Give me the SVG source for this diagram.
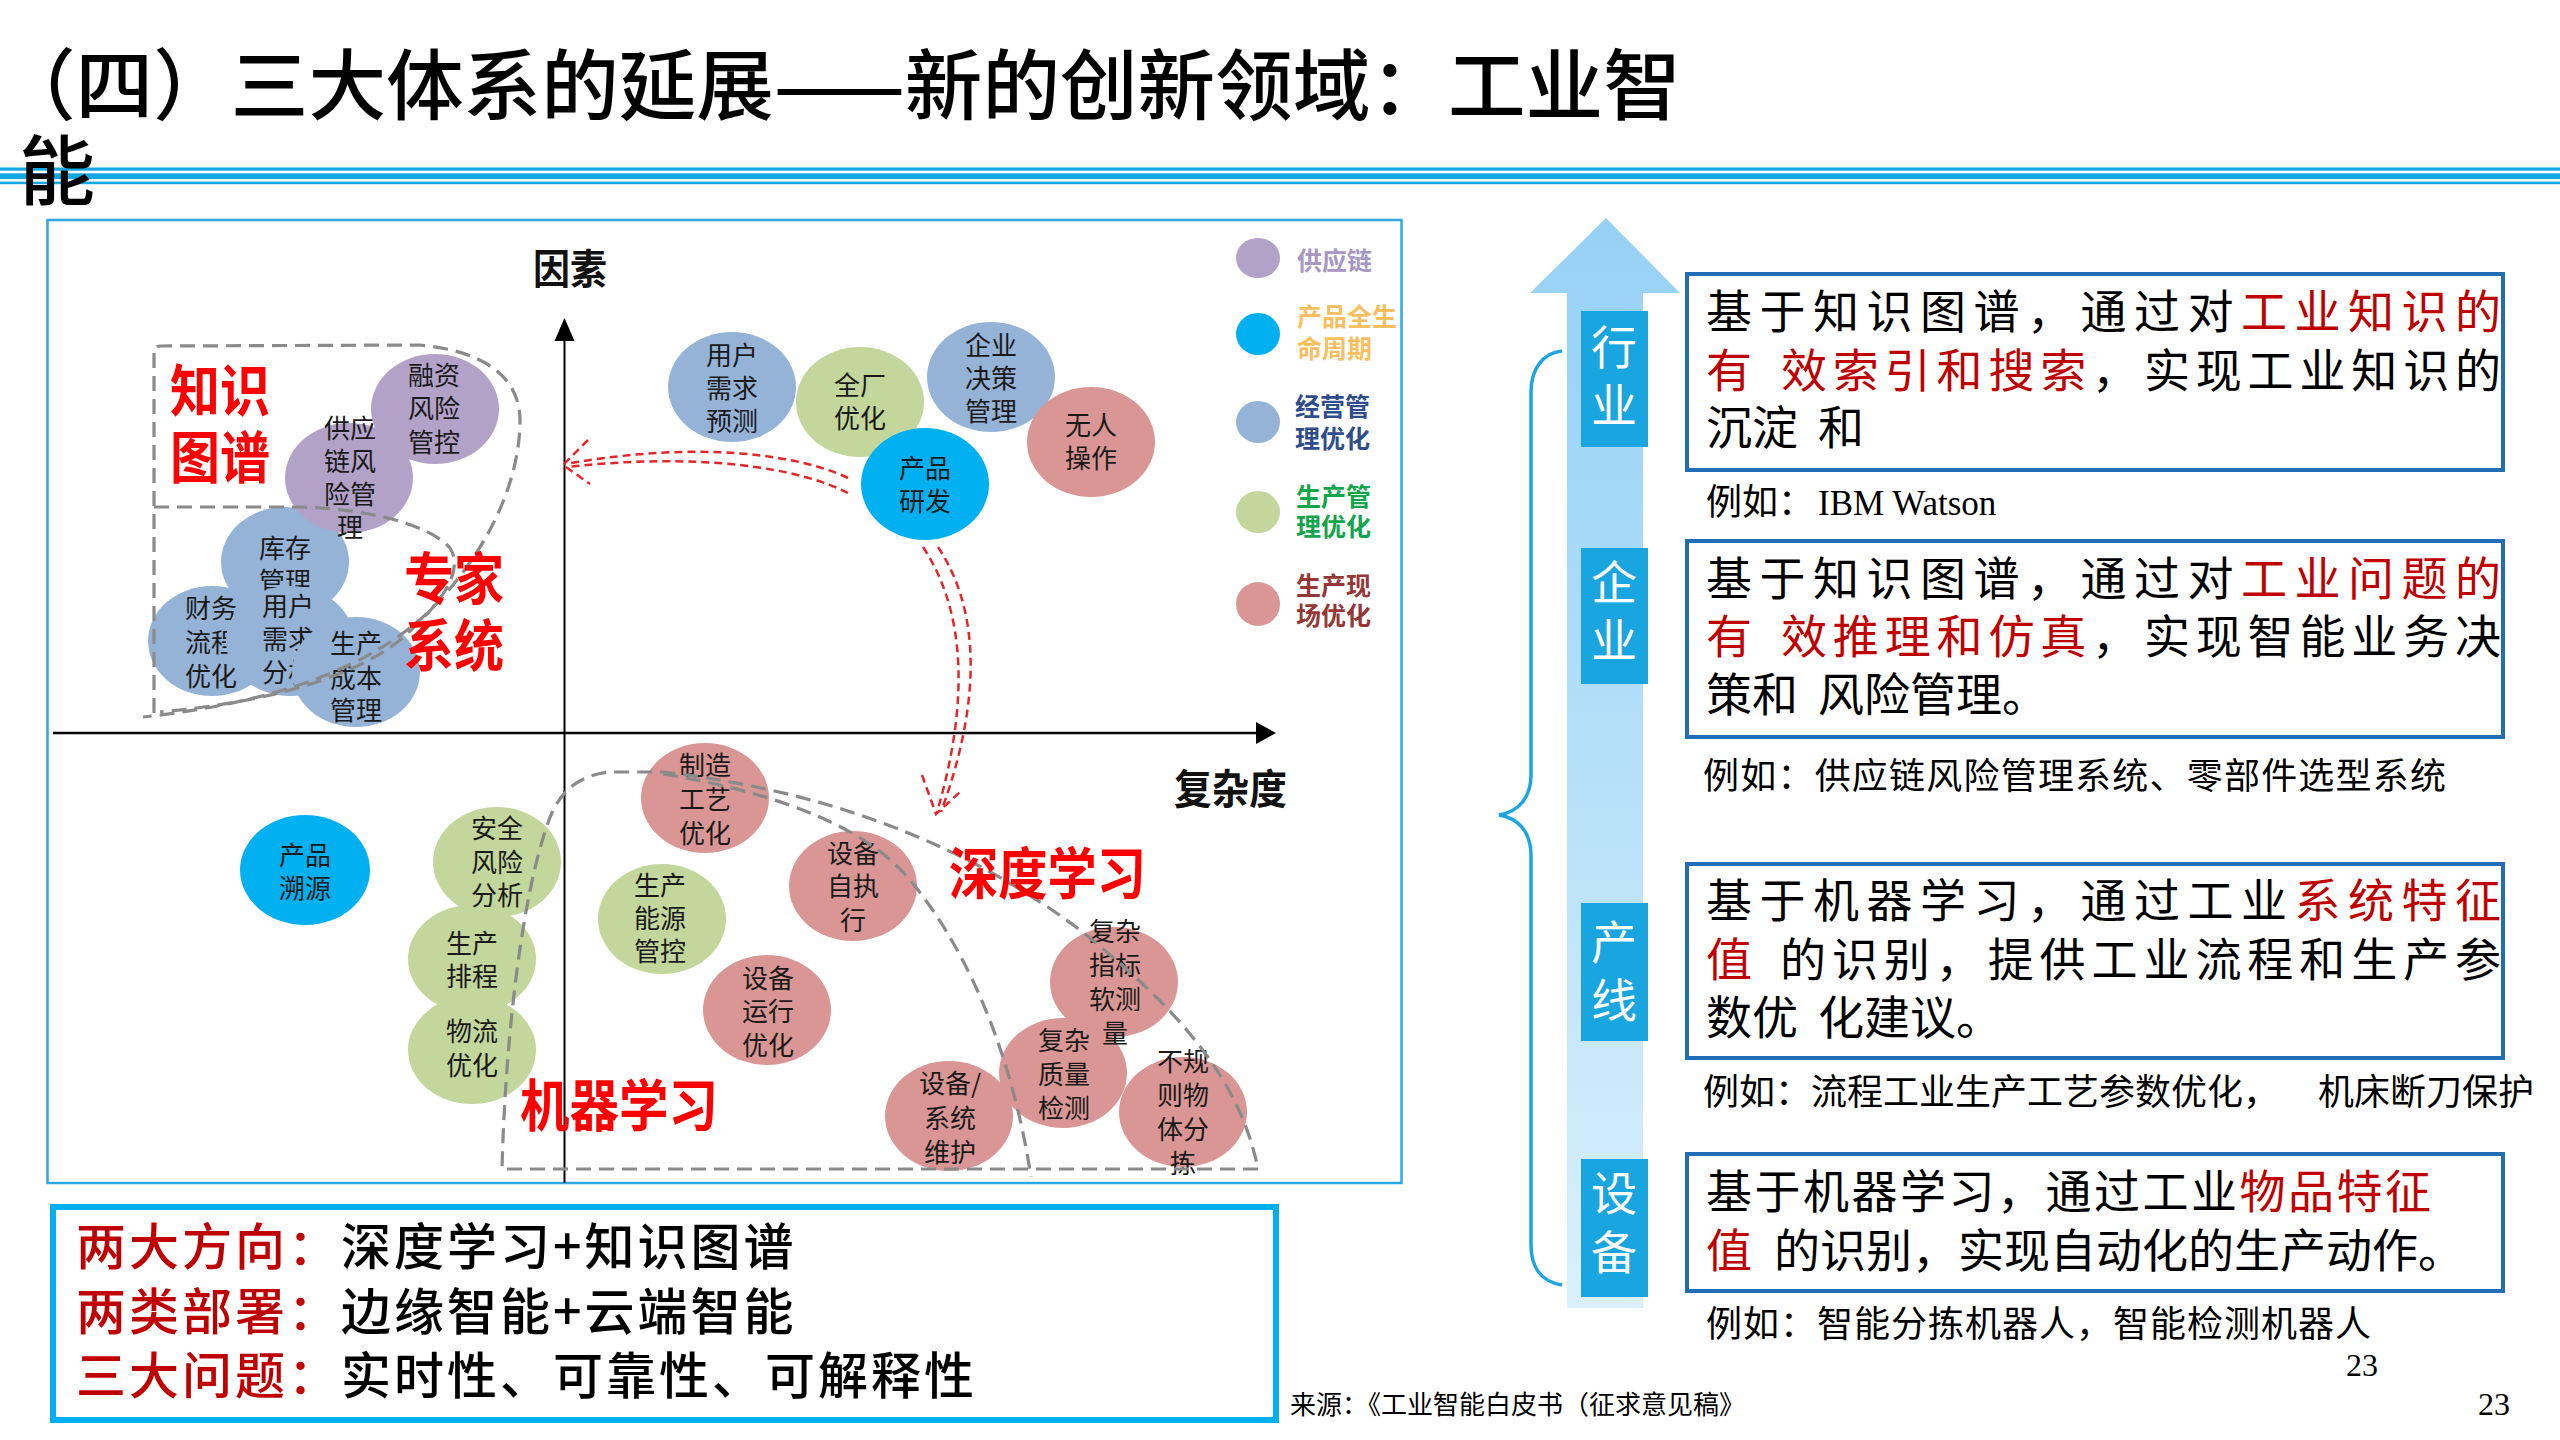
<svg xmlns="http://www.w3.org/2000/svg" width="2560" height="1440" viewBox="0 0 2560 1440">
<defs>
<linearGradient id="arrowGrad" x1="0" y1="218" x2="0" y2="1308" gradientUnits="userSpaceOnUse">
<stop offset="0" stop-color="#96D1F5"/>
<stop offset="0.25" stop-color="#A3D8F7"/>
<stop offset="1" stop-color="#DAF0FC"/>
</linearGradient>
</defs>
<style>
.cjk{font-family:"Noto Sans CJK SC","Noto Sans CJK JP",sans-serif}
.ct{font-size:26px;text-anchor:middle;fill:#1a1a1a}
.lab{font-weight:700;fill:#FF0000}
.axl{font-weight:700;fill:#111}
.cp{fill:#B3A2C7}.cc{fill:#00B0F0}.cb{fill:#95B3D7}.cg{fill:#C3D69B}.cr{fill:#D99694}
.dash{fill:none;stroke:#8A8A8A;stroke-width:3.2;stroke-dasharray:15 8}
.rdash{fill:none;stroke:#E3262A;stroke-width:2.5;stroke-dasharray:8 5}
.box{fill:#fff;stroke:#1F6EB7;stroke-width:4}
.bt{font-size:46px;fill:#000}
.red{fill:#C00000}
.eg{font-size:36px;fill:#000}
.lg{font-size:25px;font-weight:700}
.tag{fill:#19A5DF}
.tagt{font-size:46px;fill:#fff;text-anchor:middle}
.sum{font-size:50px;font-weight:500;letter-spacing:3px;fill:#000}
</style>
<rect width="2560" height="1440" fill="#fff"/>

<!-- header lines -->
<g id="header">
<rect x="0" y="167.5" width="2560" height="3.2" fill="#13A8E2"/>
<rect x="0" y="173.3" width="2560" height="5.8" fill="#13A8E2"/>
<rect x="0" y="181.6" width="2560" height="2.6" fill="#13A8E2"/>
<text class="cjk" x="-2" y="114" font-size="77.6" font-weight="500" fill="#000">（四）三大体系的延展——新的创新领域：工业智</text>
<text class="cjk" x="19" y="199" font-size="76" font-weight="500" fill="#000">能</text>
</g>

<!-- chart frame -->
<rect id="chart-frame" x="47.5" y="220" width="1354" height="963" fill="none" stroke="#2BA9E0" stroke-width="2.5"/>

<!-- upper-left cluster -->
<g id="kucun"><ellipse class="cb" cx="285" cy="562" rx="64" ry="55"/><text class="cjk ct"><tspan x="285" y="558">库存</tspan><tspan x="285" y="591">管理</tspan></text></g>
<g id="caiwu"><ellipse class="cb" cx="212" cy="641" rx="64" ry="55"/><text class="cjk ct"><tspan x="211" y="618">财务</tspan><tspan x="211" y="652">流程</tspan><tspan x="211" y="686">优化</tspan></text></g>
<g id="yonghu-fenxi"><ellipse class="cb" cx="290" cy="641" rx="64" ry="55"/><text class="cjk ct"><tspan x="288" y="616">用户</tspan><tspan x="288" y="649">需求</tspan><tspan x="288" y="682">分析</tspan></text></g>
<g id="chengben"><ellipse class="cb" cx="356" cy="672" rx="64" ry="55"/><text class="cjk ct"><tspan x="356" y="653">生产</tspan><tspan x="356" y="688">成本</tspan><tspan x="356" y="720">管理</tspan></text></g>
<g id="gongying"><ellipse class="cp" cx="349" cy="478" rx="64" ry="55"/><text class="cjk ct"><tspan x="350" y="438">供应</tspan><tspan x="350" y="471">链风</tspan><tspan x="350" y="504">险管</tspan><tspan x="350" y="537">理</tspan></text></g>
<g id="rongzi"><ellipse class="cp" cx="435" cy="409" rx="64" ry="55"/><text class="cjk ct"><tspan x="434" y="385">融资</tspan><tspan x="434" y="418">风险</tspan><tspan x="434" y="452">管控</tspan></text></g>

<!-- upper-right cluster -->
<g id="yuce"><ellipse class="cb" cx="732" cy="387" rx="64" ry="55"/><text class="cjk ct"><tspan x="732" y="365">用户</tspan><tspan x="732" y="398">需求</tspan><tspan x="732" y="431">预测</tspan></text></g>
<g id="quanchang"><ellipse class="cg" cx="860" cy="402" rx="64" ry="55"/><text class="cjk ct"><tspan x="860" y="395">全厂</tspan><tspan x="860" y="428">优化</tspan></text></g>
<g id="qiye"><ellipse class="cb" cx="991" cy="377" rx="64" ry="55"/><text class="cjk ct"><tspan x="991" y="355">企业</tspan><tspan x="991" y="388">决策</tspan><tspan x="991" y="421">管理</tspan></text></g>
<g id="yanfa"><ellipse class="cc" cx="925" cy="484" rx="64" ry="56"/><text class="cjk ct"><tspan x="925" y="478">产品</tspan><tspan x="925" y="511">研发</tspan></text></g>
<g id="wuren"><ellipse class="cr" cx="1091" cy="442" rx="64" ry="55"/><text class="cjk ct"><tspan x="1091" y="435">无人</tspan><tspan x="1091" y="468">操作</tspan></text></g>

<!-- lower-left cluster -->
<g id="suyuan"><ellipse class="cc" cx="305" cy="870" rx="65" ry="55"/><text class="cjk ct"><tspan x="305" y="865">产品</tspan><tspan x="305" y="898">溯源</tspan></text></g>
<g id="wuliu"><ellipse class="cg" cx="472" cy="1050" rx="64" ry="54"/><text class="cjk ct"><tspan x="472" y="1041">物流</tspan><tspan x="472" y="1075">优化</tspan></text></g>
<g id="paicheng"><ellipse class="cg" cx="472" cy="959" rx="64" ry="54"/><text class="cjk ct"><tspan x="472" y="953">生产</tspan><tspan x="472" y="986">排程</tspan></text></g>
<g id="anquan"><ellipse class="cg" cx="497" cy="862" rx="64" ry="55"/><text class="cjk ct"><tspan x="497" y="838">安全</tspan><tspan x="497" y="872">风险</tspan><tspan x="497" y="905">分析</tspan></text></g>

<!-- lower-right cluster -->
<g id="zhizao"><ellipse class="cr" cx="705" cy="798" rx="64" ry="55"/><text class="cjk ct"><tspan x="705" y="775">制造</tspan><tspan x="705" y="809">工艺</tspan><tspan x="705" y="843">优化</tspan></text></g>
<g id="nengyuan"><ellipse class="cg" cx="662" cy="919" rx="64" ry="55"/><text class="cjk ct"><tspan x="660" y="895">生产</tspan><tspan x="660" y="928">能源</tspan><tspan x="660" y="961">管控</tspan></text></g>
<g id="zizhixing"><ellipse class="cr" cx="853" cy="886" rx="64" ry="55"/><text class="cjk ct"><tspan x="853" y="863">设备</tspan><tspan x="853" y="896">自执</tspan><tspan x="853" y="930">行</tspan></text></g>
<g id="yunxing"><ellipse class="cr" cx="767" cy="1010" rx="64" ry="55"/><text class="cjk ct"><tspan x="768" y="988">设备</tspan><tspan x="768" y="1021">运行</tspan><tspan x="768" y="1055">优化</tspan></text></g>
<g id="zhiliang"><ellipse class="cr" cx="1063" cy="1073" rx="64" ry="55"/><text class="cjk ct"><tspan x="1064" y="1050">复杂</tspan><tspan x="1064" y="1084">质量</tspan><tspan x="1064" y="1118">检测</tspan></text></g>
<g id="ruance"><ellipse class="cr" cx="1114" cy="982" rx="64" ry="55"/><text class="cjk ct"><tspan x="1115" y="941">复杂</tspan><tspan x="1115" y="975">指标</tspan><tspan x="1115" y="1009">软测</tspan><tspan x="1115" y="1043">量</tspan></text></g>
<g id="weihu"><ellipse class="cr" cx="949" cy="1116" rx="64" ry="55"/><text class="cjk ct"><tspan x="950" y="1093">设备/</tspan><tspan x="950" y="1128">系统</tspan><tspan x="950" y="1162">维护</tspan></text></g>
<g id="fenjian"><ellipse class="cr" cx="1183" cy="1112" rx="64" ry="55"/><text class="cjk ct"><tspan x="1183" y="1071">不规</tspan><tspan x="1183" y="1105">则物</tspan><tspan x="1183" y="1139">体分</tspan><tspan x="1183" y="1173">拣</tspan></text></g>

<!-- connectors: axes, region outlines, arrows -->
<g id="connectors">
<line x1="564.5" y1="338" x2="564.5" y2="1183" stroke="#000" stroke-width="2"/>
<polygon points="564.5,318 554.5,341 574.5,341" fill="#000"/>
<line x1="53" y1="733" x2="1258" y2="733" stroke="#000" stroke-width="2.5"/>
<polygon points="1276,733 1256,722 1256,744" fill="#000"/>
<path class="dash" d="M154,713 L154,350 Q154,346 160,346 L419,345 C480,350 520,375 520,420 C520,480 490,545 440,600 C390,655 300,700 143,717"/>
<path class="dash" d="M154,507 L300,507 C370,509 430,525 450,548 C465,572 440,605 400,640 C350,680 260,703 160,712"/>
<path class="dash" d="M1258,1169 L502,1169 C505,1050 520,900 549,820 C560,790 580,775 610,772 L663,772 C820,790 960,840 1080,930 C1180,1010 1240,1080 1258,1169"/>
<path class="dash" d="M663,774 C760,790 860,820 910,880 C960,940 1010,1040 1031,1177"/>
<path class="rdash" d="M848,478 C800,455 700,440 566,464"/>
<path class="rdash" d="M848,493 C800,468 700,452 568,467"/>
<path class="rdash" d="M588,440 L563,465 L590,484"/>
<path class="rdash" d="M923,547 C965,610 970,700 937,812"/>
<path class="rdash" d="M938,547 C980,610 982,700 941,812"/>
<path class="rdash" d="M922,775 L936,814 L960,792"/>
</g>

<!-- chart labels -->
<g id="chart-labels">
<text class="cjk axl" x="533" y="284" font-size="41" textLength="74" lengthAdjust="spacingAndGlyphs">因素</text>
<text class="cjk axl" x="1174" y="804" font-size="41" textLength="113" lengthAdjust="spacingAndGlyphs">复杂度</text>
<text class="cjk lab" x="170" y="411" font-size="56" textLength="100" lengthAdjust="spacingAndGlyphs">知识</text>
<text class="cjk lab" x="170" y="478" font-size="56" textLength="100" lengthAdjust="spacingAndGlyphs">图谱</text>
<text class="cjk lab" x="404" y="599" font-size="56" textLength="100" lengthAdjust="spacingAndGlyphs">专家</text>
<text class="cjk lab" x="404" y="666" font-size="56" textLength="100" lengthAdjust="spacingAndGlyphs">系统</text>
<text class="cjk lab" x="520" y="1126" font-size="56" textLength="198" lengthAdjust="spacingAndGlyphs">机器学习</text>
<text class="cjk lab" x="949" y="894" font-size="56" textLength="197" lengthAdjust="spacingAndGlyphs">深度学习</text>
</g>

<!-- legend -->
<g id="legend">
<ellipse class="cp" cx="1258" cy="258" rx="22" ry="20"/>
<text class="cjk lg" x="1297" y="270" fill="#A797C4">供应链</text>
<ellipse class="cc" cx="1258" cy="334" rx="22" ry="21"/>
<text class="cjk lg" fill="#F9BF5F"><tspan x="1297" y="326">产品全生</tspan><tspan x="1297" y="358">命周期</tspan></text>
<ellipse class="cb" cx="1258" cy="422" rx="22" ry="21"/>
<text class="cjk lg" fill="#2F4D8C"><tspan x="1295" y="416">经营管</tspan><tspan x="1295" y="448">理优化</tspan></text>
<ellipse class="cg" cx="1258" cy="512" rx="22" ry="21"/>
<text class="cjk lg" fill="#12A54A"><tspan x="1296" y="506">生产管</tspan><tspan x="1296" y="536">理优化</tspan></text>
<ellipse class="cr" cx="1258" cy="604" rx="22" ry="22"/>
<text class="cjk lg" fill="#953735"><tspan x="1296" y="595">生产现</tspan><tspan x="1296" y="625">场优化</tspan></text>
</g>

<!-- summary box -->
<g id="summary">
<rect x="53" y="1207" width="1223" height="213" fill="#fff" stroke="#00B0F0" stroke-width="6"/>
<text class="cjk sum" x="76" y="1265"><tspan class="red">两大方向：</tspan>深度学习+知识图谱</text>
<text class="cjk sum" x="76" y="1330"><tspan class="red">两类部署：</tspan>边缘智能+云端智能</text>
<text class="cjk sum" x="76" y="1394"><tspan class="red">三大问题：</tspan>实时性、可靠性、可解释性</text>
</g>

<!-- right panel arrow and brace -->
<g id="level-arrow">
<polygon points="1606,218 1680,293 1643,293 1643,1308 1567,1308 1567,293 1530,293" fill="url(#arrowGrad)"/>
</g>
<g id="brace">
<path d="M1562,351 C1542,353 1531,370 1531,392 L1531,775 C1531,798 1518,812 1499,815 C1518,818 1531,832 1531,855 L1531,1245 C1531,1268 1542,1282 1562,1285" fill="none" stroke="#1BA6E0" stroke-width="3.5"/>
</g>
<g id="tag-hangye"><rect class="tag" x="1581" y="311" width="67" height="136"/><text class="cjk tagt"><tspan x="1614" y="364">行</tspan><tspan x="1614" y="422">业</tspan></text></g>
<g id="tag-qiye"><rect class="tag" x="1581" y="548" width="67" height="136"/><text class="cjk tagt"><tspan x="1614" y="599">企</tspan><tspan x="1614" y="657">业</tspan></text></g>
<g id="tag-chanxian"><rect class="tag" x="1581" y="903" width="67" height="138"/><text class="cjk tagt"><tspan x="1614" y="959">产</tspan><tspan x="1614" y="1017">线</tspan></text></g>
<g id="tag-shebei"><rect class="tag" x="1581" y="1159" width="67" height="138"/><text class="cjk tagt"><tspan x="1614" y="1210">设</tspan><tspan x="1614" y="1269">备</tspan></text></g>

<!-- text boxes -->
<g id="box-hangye">
<rect class="box" x="1687" y="274" width="816" height="196"/>
<text class="cjk bt" x="1706" y="328" textLength="795" lengthAdjust="spacing">基于知识图谱，通过对<tspan class="red">工业知识的</tspan></text>
<text class="cjk bt red" x="1706" y="387">有</text>
<text class="cjk bt" x="1781" y="387" textLength="720" lengthAdjust="spacing"><tspan class="red">效索引和搜索</tspan>，实现工业知识的</text>
<text class="cjk bt" y="444"><tspan x="1706">沉淀</tspan><tspan x="1818">和</tspan></text>
</g>
<g id="eg-hangye">
<text class="cjk eg" x="1706" y="515">例如：</text>
<text x="1818" y="515" font-family="Liberation Serif, serif" font-size="35" fill="#000">IBM Watson</text>
</g>
<g id="box-qiye">
<rect class="box" x="1687" y="541" width="816" height="196"/>
<text class="cjk bt" x="1706" y="595" textLength="795" lengthAdjust="spacing">基于知识图谱，通过对<tspan class="red">工业问题的</tspan></text>
<text class="cjk bt red" x="1706" y="653">有</text>
<text class="cjk bt" x="1781" y="653" textLength="720" lengthAdjust="spacing"><tspan class="red">效推理和仿真</tspan>，实现智能业务决</text>
<text class="cjk bt" y="711"><tspan x="1706">策和</tspan><tspan x="1818">风险管理。</tspan></text>
</g>
<g id="eg-qiye"><text class="cjk eg" x="1703" y="789" textLength="743" lengthAdjust="spacing">例如：供应链风险管理系统、零部件选型系统</text></g>
<g id="box-chanxian">
<rect class="box" x="1687" y="864" width="816" height="194"/>
<text class="cjk bt" x="1706" y="917" textLength="795" lengthAdjust="spacing">基于机器学习，通过工业<tspan class="red">系统特征</tspan></text>
<text class="cjk bt red" x="1706" y="976">值</text>
<text class="cjk bt" x="1780" y="976" textLength="721" lengthAdjust="spacing">的识别，提供工业流程和生产参</text>
<text class="cjk bt" y="1034"><tspan x="1706">数优</tspan><tspan x="1818">化建议。</tspan></text>
</g>
<g id="eg-chanxian"><text class="cjk eg" y="1105"><tspan x="1703">例如：流程工业生产工艺参数优化，</tspan><tspan x="2318">机床断刀保护</tspan></text></g>
<g id="box-shebei">
<rect class="box" x="1687" y="1154" width="816" height="137"/>
<text class="cjk bt" x="1706" y="1208" textLength="725" lengthAdjust="spacing">基于机器学习，通过工业<tspan class="red">物品特征</tspan></text>
<text class="cjk bt" y="1267"><tspan x="1706" class="red">值</tspan><tspan x="1774">的识别，实现自动化的生产动作。</tspan></text>
</g>
<g id="eg-shebei"><text class="cjk eg" x="1706" y="1337" textLength="665" lengthAdjust="spacing">例如：智能分拣机器人，智能检测机器人</text></g>

<!-- footer -->
<g id="footer">
<text x="2346" y="1376" font-family="Liberation Serif, serif" font-size="32" fill="#000">23</text>
<text x="2478" y="1415" font-family="Liberation Serif, serif" font-size="32" fill="#000">23</text>
<text class="cjk" x="1290" y="1414" font-size="26" fill="#000">来源：《工业智能白皮书（征求意见稿》</text>
</g>
</svg>
